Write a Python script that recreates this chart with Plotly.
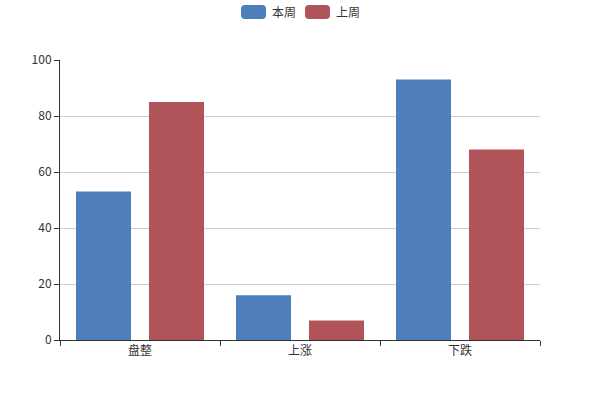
import plotly.graph_objects as go

categories = ["盘整", "上涨", "下跌"]
this_week = [53, 16, 93]
last_week = [85, 7, 68]
y_ticks = [0, 20, 40, 60, 80, 100]
series_names = ["本周", "上周"]
series_colors = ["#4e7ebb", "#b0545a"]

fig = go.Figure()
fig.add_trace(go.Bar(name=series_names[0], x=categories, y=this_week,
                     marker=dict(color=series_colors[0], line=dict(width=0))))
fig.add_trace(go.Bar(name=series_names[1], x=categories, y=last_week,
                     marker=dict(color=series_colors[1], line=dict(width=0))))

# plot area in pixels: x 60..540, y 60..340
def px(x):
    return (x - 60) / 480.0

def py(y):
    return (340 - y) / 280.0

def rounded_rect(x0, y0, x1, y1, r):
    return (
        f"M {px(x0 + r)} {py(y0)} L {px(x1 - r)} {py(y0)} "
        f"Q {px(x1)} {py(y0)} {px(x1)} {py(y0 + r)} L {px(x1)} {py(y1 - r)} "
        f"Q {px(x1)} {py(y1)} {px(x1 - r)} {py(y1)} L {px(x0 + r)} {py(y1)} "
        f"Q {px(x0)} {py(y1)} {px(x0)} {py(y1 - r)} L {px(x0)} {py(y0 + r)} "
        f"Q {px(x0)} {py(y0)} {px(x0 + r)} {py(y0)} Z"
    )

legend_icon_x = [241, 305]
shapes = []
annotations = []
for name, color, lx in zip(series_names, series_colors, legend_icon_x):
    shapes.append(dict(type="path", xref="paper", yref="paper",
                       path=rounded_rect(lx, 5, lx + 25, 19, 4),
                       fillcolor=color, line=dict(width=0)))
    annotations.append(dict(xref="paper", yref="paper", x=px(lx + 29), y=py(12),
                            xanchor="left", yanchor="middle", showarrow=False,
                            text=name, font=dict(size=12, color="#333")))

fig.update_layout(
    width=600, height=400,
    margin=dict(l=60, r=60, t=60, b=60, autoexpand=False),
    paper_bgcolor="white", plot_bgcolor="white",
    font=dict(family="Noto Sans CJK SC, sans-serif", size=12, color="#333"),
    barmode="group", bargap=0.0875, bargroupgap=0.2466,
    showlegend=False,
    shapes=shapes, annotations=annotations,
    xaxis=dict(showline=True, linecolor="#333", linewidth=1, ticks="outside", ticklen=5,
               tickcolor="#333", tickson="boundaries", showgrid=False, automargin=False),
    yaxis=dict(range=[0, 100], tickvals=y_ticks, showline=True, linecolor="#333", linewidth=1,
               ticks="outside", ticklen=5, tickcolor="#333", showgrid=True, gridcolor="#ccc",
               zeroline=False, automargin=False),
)
fig.write_html("out.html", config={"displayModeBar": False},
               post_script="document.body.style.margin='0';")
